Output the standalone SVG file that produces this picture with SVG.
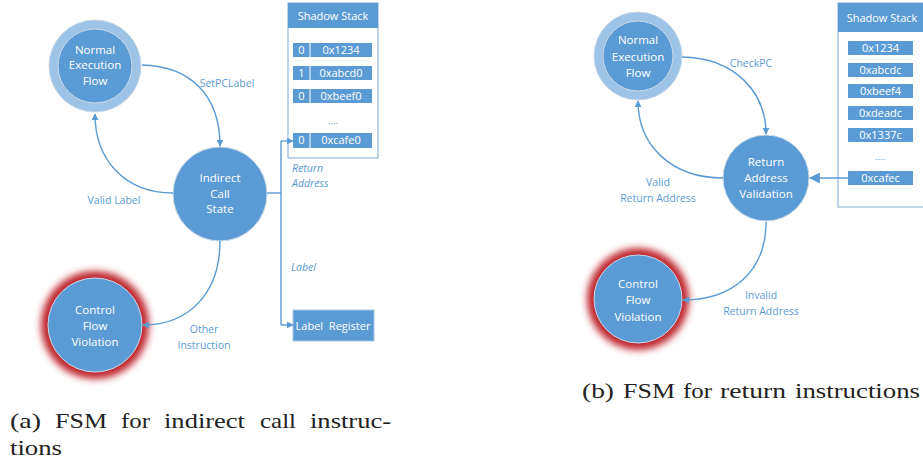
<svg xmlns="http://www.w3.org/2000/svg" width="923" height="464" viewBox="0 0 923 464">
<defs>
<marker id="ah" viewBox="0 0 10 10" refX="9" refY="5" markerWidth="7" markerHeight="7" markerUnits="userSpaceOnUse" orient="auto"><path d="M0,0 L10,5 L0,10 z" fill="#5b9bd5"/></marker>
<marker id="ah2" viewBox="0 0 10 10" refX="9" refY="5" markerWidth="11" markerHeight="11" markerUnits="userSpaceOnUse" orient="auto"><path d="M0,0 L10,5 L0,10 z" fill="#5b9bd5"/></marker>
<filter id="glow" x="-40%" y="-40%" width="180%" height="180%"><feGaussianBlur stdDeviation="3.5"/></filter>
</defs>
<style>
.node{fill:#5b9bd5;stroke:#c9d9ea;stroke-width:1}
.ring{fill:#9dc3e6;stroke:#c8d8e8;stroke-width:1}
.nt{font-family:"Open Sans","Liberation Sans",sans-serif;font-size:11.5px;fill:#ffffff;text-anchor:middle}
.lbl{font-family:"Open Sans","Liberation Sans",sans-serif;font-size:10.5px;fill:#5b9bd5;text-anchor:middle}
.it{font-family:"Open Sans","Liberation Sans",sans-serif;font-size:10.5px;fill:#5b9bd5;font-style:italic}
.edge{fill:none;stroke:#5b9bd5;stroke-width:1.4}
.cell{fill:#5b9bd5}
.ct{font-family:"Open Sans","Liberation Sans",sans-serif;font-size:11px;fill:#ffffff;text-anchor:middle}
.box{fill:#ffffff;stroke:#7fa9d6;stroke-width:1}
.hdr{fill:#5b9bd5}
.cap{font-family:"Liberation Serif","DejaVu Serif",serif;font-size:22px;fill:#222}
</style>
<rect width="923" height="464" fill="#ffffff"/>

<!-- (a) -->
<g id="a-nef">
<circle cx="95" cy="66" r="46" class="ring"/>
<circle cx="95" cy="66" r="37" class="node" stroke="#b7cde4"/>
<text class="nt" x="95" y="54">Normal</text>
<text class="nt" x="95" y="69">Execution</text>
<text class="nt" x="95" y="85">Flow</text>
</g>
<g id="a-ics">
<circle cx="220" cy="194" r="47" class="node"/>
<text class="nt" x="220" y="182">Indirect</text>
<text class="nt" x="220" y="198">Call</text>
<text class="nt" x="220" y="213">State</text>
</g>
<g id="a-cfv">
<circle cx="95" cy="325" r="54" fill="#c0282d" filter="url(#glow)"/>
<circle cx="95" cy="325" r="47" class="node" stroke="#d8e2ee"/>
<text class="nt" x="95" y="314">Control</text>
<text class="nt" x="95" y="330">Flow</text>
<text class="nt" x="95" y="346">Violation</text>
</g>
<g id="a-stack">
<rect x="288" y="3" width="90" height="155" class="box"/>
<rect x="288" y="3" width="90" height="25" class="hdr"/>
<text class="ct" x="333" y="20">Shadow Stack</text>
<g>
<rect x="293" y="43" width="79" height="14" class="cell"/><line x1="310" y1="43" x2="310" y2="57" stroke="#fff" stroke-width="1"/>
<text class="ct" x="301.5" y="54">0</text><text class="ct" x="341" y="54">0x1234</text>
<rect x="293" y="66" width="79" height="14" class="cell"/><line x1="310" y1="66" x2="310" y2="80" stroke="#fff" stroke-width="1"/>
<text class="ct" x="301.5" y="77">1</text><text class="ct" x="341" y="77">0xabcd0</text>
<rect x="293" y="89" width="79" height="14" class="cell"/><line x1="310" y1="89" x2="310" y2="103" stroke="#fff" stroke-width="1"/>
<text class="ct" x="301.5" y="100">0</text><text class="ct" x="341" y="100">0xbeef0</text>
<text x="333" y="124" font-family="Liberation Sans,sans-serif" font-size="9" fill="#5b9bd5" text-anchor="middle">....</text>
<rect x="293" y="133" width="79" height="15" class="cell"/><line x1="310" y1="133" x2="310" y2="148" stroke="#fff" stroke-width="1"/>
<text class="ct" x="301.5" y="144">0</text><text class="ct" x="341" y="144">0xcafe0</text>
</g>
</g>
<g id="a-labreg">
<rect x="293" y="310" width="81" height="31" class="cell" stroke="#a9c6e6"/>
<text class="ct" x="333" y="330" style="white-space:pre">Label  Register</text>
</g>
<g id="a-edges">
<path class="edge" d="M142,65 C190,66 220,95 220,146" marker-end="url(#ah)"/>
<path class="edge" d="M173,193 C125,193 95,160 95,114" marker-end="url(#ah)"/>
<path class="edge" d="M220,241 C220,292 190,325 143,325" marker-end="url(#ah)"/>
<path class="edge" d="M267,193 L281,193"/>
<path class="edge" d="M281,141 L281,325"/>
<path class="edge" d="M281,141 L293,141" marker-end="url(#ah)"/>
<path class="edge" d="M281,325 L293,325" marker-end="url(#ah)"/>
<text class="lbl" x="227" y="87">SetPCLabel</text>
<text class="lbl" x="114" y="204">Valid Label</text>
<text class="lbl" x="204" y="333">Other</text>
<text class="lbl" x="204" y="349">Instruction</text>
<text class="it" x="292" y="172">Return</text>
<text class="it" x="292" y="187">Address</text>
<text class="it" x="291" y="271">Label</text>
</g>
<g id="cap-a" class="cap">
<text x="10" y="428" textLength="31" lengthAdjust="spacingAndGlyphs">(a)</text>
<text x="55" y="428" textLength="52" lengthAdjust="spacingAndGlyphs">FSM</text>
<text x="121" y="428" textLength="29" lengthAdjust="spacingAndGlyphs">for</text>
<text x="164" y="428" textLength="81" lengthAdjust="spacingAndGlyphs">indirect</text>
<text x="260" y="428" textLength="36" lengthAdjust="spacingAndGlyphs">call</text>
<text x="310" y="428" textLength="81" lengthAdjust="spacingAndGlyphs">instruc-</text>
<text x="10" y="455" textLength="52" lengthAdjust="spacingAndGlyphs">tions</text>
</g>

<!-- (b) -->
<g id="b-nef">
<circle cx="638" cy="56" r="44" class="ring"/>
<circle cx="638" cy="56" r="35" class="node" stroke="#b7cde4"/>
<text class="nt" x="638" y="44">Normal</text>
<text class="nt" x="638" y="61">Execution</text>
<text class="nt" x="638" y="77">Flow</text>
</g>
<g id="b-rav">
<circle cx="766" cy="178" r="43" class="node"/>
<text class="nt" x="766" y="166">Return</text>
<text class="nt" x="766" y="182">Address</text>
<text class="nt" x="766" y="198">Validation</text>
</g>
<g id="b-cfv">
<circle cx="638" cy="299" r="51" fill="#c0282d" filter="url(#glow)"/>
<circle cx="638" cy="299" r="44" class="node" stroke="#d8e2ee"/>
<text class="nt" x="638" y="288">Control</text>
<text class="nt" x="638" y="304">Flow</text>
<text class="nt" x="638" y="321">Violation</text>
</g>
<g id="b-stack">
<rect x="838" y="3" width="90" height="204" class="box"/>
<rect x="838" y="3" width="90" height="29" class="hdr"/>
<text class="ct" x="882" y="22">Shadow Stack</text>
<rect x="848" y="41" width="65" height="14" class="cell"/><text class="ct" x="880.5" y="52">0x1234</text>
<rect x="848" y="63" width="65" height="14" class="cell"/><text class="ct" x="880.5" y="74">0xabcdc</text>
<rect x="848" y="84" width="65" height="14" class="cell"/><text class="ct" x="880.5" y="95">0xbeef4</text>
<rect x="848" y="106" width="65" height="14" class="cell"/><text class="ct" x="880.5" y="117">0xdeadc</text>
<rect x="848" y="128" width="65" height="14" class="cell"/><text class="ct" x="880.5" y="139">0x1337c</text>
<text x="880" y="160" font-family="Liberation Sans,sans-serif" font-size="9" fill="#5b9bd5" text-anchor="middle">....</text>
<rect x="848" y="171" width="65" height="14" class="cell"/><text class="ct" x="880.5" y="182">0xcafec</text>
</g>
<g id="b-edges">
<path class="edge" d="M682,57 C735,58 766,92 766,134" marker-end="url(#ah)"/>
<path class="edge" d="M723,178 C672,178 638,146 638,101" marker-end="url(#ah)"/>
<path class="edge" d="M766,222 C766,272 732,300 683,300" marker-end="url(#ah)"/>
<path class="edge" d="M848,178 L810,178" marker-end="url(#ah2)"/>
<text class="lbl" x="751" y="67">CheckPC</text>
<text class="lbl" x="658" y="186">Valid</text>
<text class="lbl" x="658" y="202">Return Address</text>
<text class="lbl" x="761" y="299">Invalid</text>
<text class="lbl" x="761" y="315">Return Address</text>
</g>
<g id="cap-b" class="cap">
<text x="582" y="398" textLength="32" lengthAdjust="spacingAndGlyphs">(b)</text>
<text x="623" y="398" textLength="52" lengthAdjust="spacingAndGlyphs">FSM</text>
<text x="683" y="398" textLength="29" lengthAdjust="spacingAndGlyphs">for</text>
<text x="720" y="398" textLength="66" lengthAdjust="spacingAndGlyphs">return</text>
<text x="795" y="398" textLength="125" lengthAdjust="spacingAndGlyphs">instructions</text>
</g>
</svg>
